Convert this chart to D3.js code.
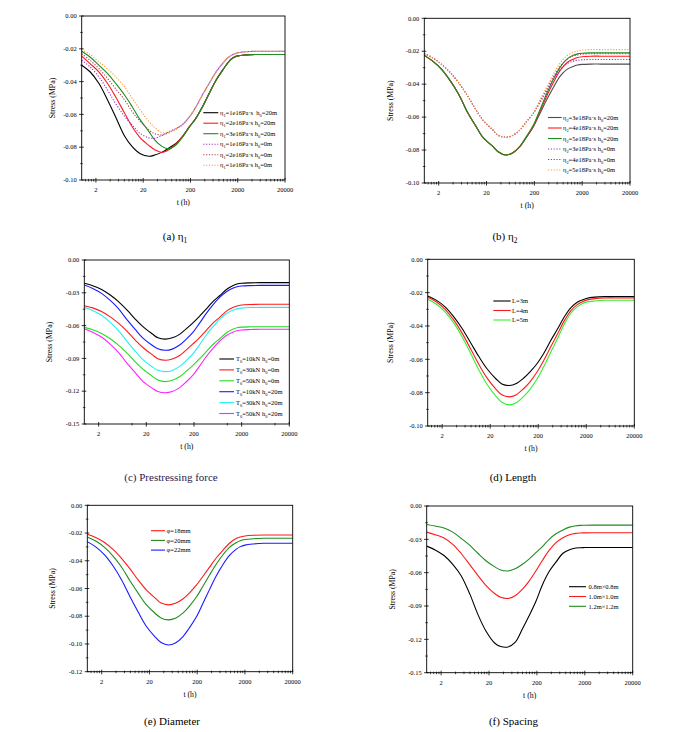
<!DOCTYPE html>
<html><head><meta charset="utf-8">
<script src="https://cdn.jsdelivr.net/npm/d3@7"></script>
<style>
body{margin:0;background:#fff}
svg{display:block}
text{font-family:"Liberation Serif","Times New Roman",serif;fill:#000}
</style>
</head><body>
<svg id="fig" width="685" height="732"></svg>
<script>
// ---------- shared time axis (h) ----------
const T = [1, 1.5, 2.3, 3.5, 5.2, 8, 11.7, 17, 26.5, 35, 50, 70, 100, 135, 190, 260, 360, 500, 700, 960, 1300, 1600, 2000, 3000, 5000, 10000, 20000];
const xTickValues = [2, 20, 200, 2000, 20000];
const xTickLabels = ["2", "20", "200", "2000", "20000"];

// ---------- (a) eta1 ----------
const aLabels = ["η_1=1e16Pa·s  h_0=20m", "η_1=2e16Pa·s h_0=20m", "η_1=3e16Pa·s h_0=20m", "η_1=1e16Pa·s h_0=0m", "η_1=2e16Pa·s h_0=0m", "η_1=1e16Pa·s h_0=0m"];
const aS1 = [-0.030, -0.034, -0.041, -0.051, -0.0614, -0.073, -0.0797, -0.0838, -0.0855, -0.0848, -0.0830, -0.0805, -0.0776, -0.0736, -0.0675, -0.0624, -0.0553, -0.0471, -0.039, -0.033, -0.0278, -0.0255, -0.0243, -0.0237, -0.0235, -0.0235, -0.0235];
const aS2 = [-0.0245, -0.029, -0.034, -0.041, -0.0492, -0.059, -0.0675, -0.0740, -0.0790, -0.0815, -0.0832, -0.0815, -0.0778, -0.0736, -0.0675, -0.0624, -0.0553, -0.0471, -0.039, -0.033, -0.0278, -0.0255, -0.0243, -0.0237, -0.0235, -0.0235, -0.0235];
const aS3 = [-0.0215, -0.025, -0.0299, -0.035, -0.041, -0.048, -0.0553, -0.0630, -0.0705, -0.0755, -0.0795, -0.0810, -0.0785, -0.0740, -0.0677, -0.0625, -0.0553, -0.0471, -0.039, -0.033, -0.0278, -0.0255, -0.0243, -0.0237, -0.0235, -0.0235, -0.0235];
const aD1 = [-0.027, -0.031, -0.037, -0.045, -0.0533, -0.061, -0.0665, -0.0715, -0.0743, -0.0745, -0.0728, -0.0705, -0.0685, -0.0662, -0.0615, -0.0555, -0.048, -0.041, -0.034, -0.0289, -0.0250, -0.0235, -0.0225, -0.0218, -0.0215, -0.0215, -0.0215];
const aD2 = [-0.023, -0.027, -0.032, -0.038, -0.0443, -0.051, -0.0583, -0.064, -0.0695, -0.0718, -0.0725, -0.0712, -0.0688, -0.0662, -0.0615, -0.0555, -0.048, -0.041, -0.034, -0.0289, -0.0250, -0.0235, -0.0225, -0.0218, -0.0215, -0.0215, -0.0215];
const aD3 = [-0.0205, -0.0235, -0.0279, -0.032, -0.037, -0.043, -0.0502, -0.057, -0.0644, -0.068, -0.0711, -0.0708, -0.0690, -0.0662, -0.0615, -0.0555, -0.048, -0.041, -0.034, -0.0289, -0.0250, -0.0235, -0.0225, -0.0218, -0.0215, -0.0215, -0.0215];

// ---------- (b) eta2 ----------
const bLabels = ["η_2=3e18Pa·s h_0=20m", "η_2=4e18Pa·s h_0=20m", "η_2=5e18Pa·s h_0=20m", "η_2=3e18Pa·s h_0=0m", "η_2=4e18Pa·s h_0=0m", "η_2=5e18Pa·s h_0=0m"];
const bS1 = [-0.0225, -0.026, -0.031, -0.038, -0.046, -0.057, -0.065, -0.0725, -0.0775, -0.0810, -0.0830, -0.0818, -0.0779, -0.0725, -0.0660, -0.0580, -0.0496, -0.0420, -0.0350, -0.0310, -0.0292, -0.0284, -0.0280, -0.0278, -0.0278, -0.0278, -0.0278];
const bS2 = [-0.0225, -0.026, -0.031, -0.038, -0.046, -0.057, -0.065, -0.0725, -0.0775, -0.0810, -0.0830, -0.0818, -0.0778, -0.0722, -0.0655, -0.0568, -0.0475, -0.0390, -0.0315, -0.0270, -0.0248, -0.0238, -0.0233, -0.0230, -0.0230, -0.0230, -0.0230];
const bS3 = [-0.0225, -0.026, -0.031, -0.038, -0.046, -0.057, -0.065, -0.0725, -0.0775, -0.0810, -0.0830, -0.0818, -0.0778, -0.0720, -0.0650, -0.0558, -0.0460, -0.0370, -0.0295, -0.0248, -0.0225, -0.0216, -0.0212, -0.0210, -0.0210, -0.0210, -0.0210];
const bD1 = [-0.0215, -0.024, -0.028, -0.033, -0.039, -0.047, -0.055, -0.0620, -0.0675, -0.0710, -0.0722, -0.0712, -0.0678, -0.0630, -0.0577, -0.0515, -0.0445, -0.037, -0.031, -0.0275, -0.0260, -0.0255, -0.0252, -0.0250, -0.0250, -0.0250, -0.0250];
const bD2 = [-0.0215, -0.024, -0.028, -0.033, -0.039, -0.047, -0.055, -0.0620, -0.0675, -0.0710, -0.0722, -0.0712, -0.0678, -0.0630, -0.0577, -0.0505, -0.0432, -0.0355, -0.029, -0.0250, -0.0228, -0.0222, -0.0218, -0.0215, -0.0215, -0.0215, -0.0215];
const bD3 = [-0.0215, -0.024, -0.028, -0.033, -0.039, -0.047, -0.055, -0.0620, -0.0675, -0.0710, -0.0722, -0.0712, -0.0678, -0.0630, -0.0577, -0.0498, -0.0420, -0.034, -0.027, -0.0228, -0.0207, -0.0198, -0.0193, -0.0190, -0.0190, -0.0190, -0.0190];

// ---------- (c) prestressing force ----------
const cLabels = ["T_0=10kN h_0=0m", "T_0=30kN h_0=0m", "T_0=50kN h_0=0m", "T_0=10kN h_0=20m", "T_0=30kN h_0=20m", "T_0=50kN h_0=20m"];
const c10a = [-0.0213, -0.0235, -0.027, -0.032, -0.038, -0.046, -0.054, -0.061, -0.0675, -0.0712, -0.0724, -0.0712, -0.0680, -0.0633, -0.0575, -0.0515, -0.0450, -0.0380, -0.0325, -0.0270, -0.0235, -0.0220, -0.0213, -0.0209, -0.0207, -0.0207, -0.0207];
const c30a = [-0.0418, -0.0438, -0.0472, -0.0520, -0.0578, -0.0655, -0.0733, -0.0800, -0.0866, -0.0903, -0.0917, -0.0905, -0.0873, -0.0826, -0.0768, -0.0712, -0.0645, -0.0577, -0.0522, -0.0468, -0.0435, -0.0420, -0.0412, -0.0407, -0.0405, -0.0405, -0.0405];
const c50a = [-0.0616, -0.0638, -0.0672, -0.0720, -0.0778, -0.0855, -0.0932, -0.0998, -0.1062, -0.1098, -0.1112, -0.1100, -0.1068, -0.1021, -0.0963, -0.0905, -0.0840, -0.0773, -0.0718, -0.0665, -0.0633, -0.0620, -0.0614, -0.0611, -0.0610, -0.0610, -0.0610];
const c10b = [-0.0229, -0.0260, -0.0305, -0.0370, -0.0445, -0.0550, -0.0635, -0.0715, -0.0780, -0.0812, -0.0826, -0.0815, -0.0778, -0.0728, -0.0662, -0.0580, -0.0490, -0.0410, -0.0340, -0.0290, -0.0258, -0.0245, -0.0238, -0.0234, -0.0232, -0.0232, -0.0232];
const c30b = [-0.0433, -0.0462, -0.0506, -0.0570, -0.0645, -0.0748, -0.0833, -0.0912, -0.0977, -0.1008, -0.1021, -0.1010, -0.0973, -0.0923, -0.0858, -0.0777, -0.0688, -0.0610, -0.0540, -0.0490, -0.0460, -0.0447, -0.0440, -0.0435, -0.0433, -0.0433, -0.0433];
const c50b = [-0.0628, -0.0660, -0.0705, -0.0770, -0.0845, -0.0948, -0.1030, -0.1110, -0.1172, -0.1203, -0.1214, -0.1203, -0.1167, -0.1118, -0.1053, -0.0973, -0.0885, -0.0808, -0.0740, -0.0690, -0.0660, -0.0647, -0.0640, -0.0636, -0.0634, -0.0634, -0.0634];

// ---------- (d) length ----------
const dLabels = ["L=3m", "L=4m", "L=5m"];
const dL3 = [-0.0220, -0.0245, -0.0285, -0.0345, -0.0415, -0.0505, -0.0585, -0.0655, -0.0718, -0.0748, -0.0757, -0.0745, -0.0712, -0.0675, -0.0625, -0.0565, -0.0490, -0.0420, -0.0345, -0.0290, -0.0258, -0.0245, -0.0235, -0.0227, -0.0224, -0.0224, -0.0224];
const dL4 = [-0.0228, -0.0255, -0.0300, -0.0365, -0.0443, -0.0543, -0.0632, -0.0710, -0.0780, -0.0813, -0.0825, -0.0812, -0.0775, -0.0735, -0.0675, -0.0607, -0.0528, -0.0450, -0.0368, -0.0308, -0.0272, -0.0257, -0.0245, -0.0236, -0.0232, -0.0232, -0.0232];
const dL5 = [-0.0240, -0.0268, -0.0315, -0.0383, -0.0465, -0.0570, -0.0665, -0.0748, -0.0822, -0.0857, -0.0873, -0.0860, -0.0822, -0.0780, -0.0717, -0.0645, -0.0560, -0.0477, -0.0388, -0.0322, -0.0285, -0.0268, -0.0257, -0.0250, -0.0246, -0.0246, -0.0246];

// ---------- (e) diameter ----------
const eLabels = ["φ=18mm", "φ=20mm", "φ=22mm"];
const e18 = [-0.0209, -0.0232, -0.0268, -0.0320, -0.0382, -0.0462, -0.0540, -0.0608, -0.0670, -0.0705, -0.0718, -0.0707, -0.0676, -0.0635, -0.0578, -0.0515, -0.0448, -0.0380, -0.0322, -0.0272, -0.0240, -0.0228, -0.0221, -0.0216, -0.0214, -0.0214, -0.0214];
const e20 = [-0.0228, -0.0258, -0.0303, -0.0368, -0.0445, -0.0550, -0.0635, -0.0715, -0.0780, -0.0812, -0.0826, -0.0815, -0.0778, -0.0730, -0.0665, -0.0588, -0.0505, -0.0425, -0.0355, -0.0302, -0.0270, -0.0255, -0.0247, -0.0241, -0.0238, -0.0238, -0.0238];
const e22 = [-0.0262, -0.0300, -0.0358, -0.0440, -0.0537, -0.0665, -0.0772, -0.0870, -0.0950, -0.0990, -0.1007, -0.0993, -0.0948, -0.0888, -0.0808, -0.0712, -0.0610, -0.0510, -0.0425, -0.0360, -0.0318, -0.0298, -0.0287, -0.0279, -0.0274, -0.0274, -0.0274];

// ---------- (f) spacing ----------
const fLabels = ["0.8m×0.8m", "1.0m×1.0m", "1.2m×1.2m"];
const f08 = [-0.0361, -0.0395, -0.0445, -0.0525, -0.0625, -0.0795, -0.0975, -0.1120, -0.1235, -0.1264, -0.1268, -0.1228, -0.1105, -0.0995, -0.0860, -0.0710, -0.0590, -0.0505, -0.0425, -0.0393, -0.0378, -0.0375, -0.0374, -0.0373, -0.0373, -0.0373, -0.0373];
const f10 = [-0.0235, -0.0258, -0.0288, -0.0345, -0.0425, -0.0530, -0.0625, -0.0712, -0.0790, -0.0822, -0.0832, -0.0808, -0.0748, -0.0680, -0.0585, -0.0490, -0.0400, -0.0330, -0.0285, -0.0258, -0.0246, -0.0243, -0.0242, -0.0241, -0.0241, -0.0241, -0.0241];
const f12 = [-0.0166, -0.0180, -0.0198, -0.0235, -0.0290, -0.0355, -0.0425, -0.0490, -0.0548, -0.0576, -0.0585, -0.0565, -0.0524, -0.0480, -0.0420, -0.0365, -0.0300, -0.0250, -0.0215, -0.0190, -0.0178, -0.0174, -0.0173, -0.0172, -0.0172, -0.0172, -0.0172];

// y tick sets
const yTicks10 = [0, -0.02, -0.04, -0.06, -0.08, -0.10];
const yTicks12 = [0, -0.02, -0.04, -0.06, -0.08, -0.10, -0.12];
const yTicks15 = [0, -0.03, -0.06, -0.09, -0.12, -0.15];

// captions
const captions = ["(a) η_1", "(b) η_2", "(c) Prestressing force", "(d) Length", "(e) Diameter", "(f) Spacing"];

// ================= drawing =================
const svg = d3.select("#fig");
const fmt = d3.formatLocale({decimal: ".", thousands: ",", grouping: [3], currency: ["", ""], minus: "-"}).format(".2f");

function rich(textSel, str, fs) {
  const parts = str.split(/(_.)/).filter(p => p !== "");
  let shifted = false;
  parts.forEach(p => {
    if (p[0] === "_" && p.length === 2) {
      textSel.append("tspan").attr("font-size", fs * 0.68).attr("dy", fs * 0.28).text(p[1]);
      shifted = true;
    } else {
      const t = textSel.append("tspan").text(p);
      if (shifted) { t.attr("dy", -fs * 0.28); shifted = false; }
    }
  });
}

const fineMinor = [];
for (let k = -1; k <= 3; k++) for (let m = 2; m <= 9; m++) {
  const v = 2 * Math.pow(10, k) * m;
  if (v > 1.001 && v < 19999) fineMinor.push(v);
}
const coarseMinor = [10, 100, 1000, 10000];

function panel(c) {
  const g = svg.append("g");
  const x = d3.scaleLog().domain([1, 20000]).range([c.x0, c.x1]);
  const y = d3.scaleLinear().domain([c.ymin, 0]).range([c.y1, c.y0]);

  const line = d3.line().x((d, i) => x(T[i])).y(d => y(d)).curve(d3.curveCatmullRom.alpha(0.5));
  const clipId = "clip" + c.id;
  svg.append("clipPath").attr("id", clipId).append("rect")
    .attr("x", c.x0).attr("y", c.y0).attr("width", c.x1 - c.x0).attr("height", c.y1 - c.y0);
  const cg = g.append("g").attr("clip-path", `url(#${clipId})`);
  c.series.forEach(s => {
    cg.append("path").attr("d", line(s.values)).attr("fill", "none")
      .attr("stroke", s.color).attr("stroke-width", 1.1)
      .attr("stroke-dasharray", s.dash ? "1.2,1.6" : null);
  });

  // frame
  g.append("rect").attr("x", c.x0).attr("y", c.y0).attr("width", c.x1 - c.x0).attr("height", c.y1 - c.y0)
    .attr("fill", "none").attr("stroke", "#000").attr("stroke-width", 0.9);

  // x ticks
  xTickValues.forEach((v, i) => {
    g.append("line").attr("x1", x(v)).attr("x2", x(v)).attr("y1", c.y1 - 2).attr("y2", c.y1 + 2.6)
      .attr("stroke", "#000").attr("stroke-width", 0.8);
    g.append("text").attr("x", x(v)).attr("y", c.y1 + 12).attr("text-anchor", "middle")
      .attr("font-size", 6.5).text(xTickLabels[i]);
  });
  (c.coarse ? coarseMinor : fineMinor).forEach(v => {
    g.append("line").attr("x1", x(v)).attr("x2", x(v)).attr("y1", c.y1 - 1.1).attr("y2", c.y1 + 1.5)
      .attr("stroke", "#000").attr("stroke-width", 0.7);
  });

  // y ticks
  const step = c.yTicks[0] - c.yTicks[1];
  c.yTicks.forEach(v => {
    g.append("line").attr("x1", c.x0 - 2.6).attr("x2", c.x0 + 2).attr("y1", y(v)).attr("y2", y(v))
      .attr("stroke", "#000").attr("stroke-width", 0.8);
    g.append("text").attr("x", c.x0 - 5).attr("y", y(v) + 2.2).attr("text-anchor", "end")
      .attr("font-size", 6.5).text(fmt(v));
    const mv = v - step / 2;
    if (mv >= c.ymin - 1e-9) {
      g.append("line").attr("x1", c.x0 - 1.5).attr("x2", c.x0 + 1.1).attr("y1", y(mv)).attr("y2", y(mv))
        .attr("stroke", "#000").attr("stroke-width", 0.7);
    }
  });

  // axis titles
  const cy = (c.y0 + c.y1) / 2;
  g.append("text").attr("transform", `translate(${c.x0 - c.ylabOff},${cy}) rotate(-90)`)
    .attr("text-anchor", "middle").attr("font-size", 7.8).text("Stress (MPa)");
  g.append("text").attr("x", (c.x0 + c.x1) / 2).attr("y", c.y1 + 25)
    .attr("text-anchor", "middle").attr("font-size", 7.8).text("t (h)");

  // legend
  c.series.forEach((s, i) => {
    const ly = c.leg.y + i * c.leg.dy;
    g.append("line").attr("x1", c.leg.l0).attr("x2", c.leg.l1).attr("y1", ly).attr("y2", ly)
      .attr("stroke", s.color).attr("stroke-width", 1.1)
      .attr("stroke-dasharray", s.dash ? "1.2,1.6" : null);
    const t = g.append("text").attr("x", c.leg.tx).attr("y", ly + 2.2).attr("font-size", 6.5)
      .attr("xml:space", "preserve").style("white-space", "pre");
    rich(t, s.label, 6.5);
  });

  // caption
  const ct = g.append("text").attr("x", c.capX).attr("y", c.capY).attr("text-anchor", "middle")
    .attr("font-size", 11).style("fill", c.capColor || "#000");
  rich(ct, c.caption, 11);
}

panel({id: "a", x0: 81.7, x1: 285, y0: 16, y1: 180, ymin: -0.10, yTicks: yTicks10, ylabOff: 27,
  leg: {l0: 203.3, l1: 218.3, tx: 220, y: 112.7, dy: 10.5}, capX: 175, capY: 239.5, caption: captions[0],
  series: [
    {values: aS1, color: "#000000", label: aLabels[0]},
    {values: aS2, color: "#ff1a1a", label: aLabels[1]},
    {values: aS3, color: "#1e8c1e", label: aLabels[2]},
    {values: aD1, color: "#9b30c8", dash: true, label: aLabels[3]},
    {values: aD2, color: "#a0405a", dash: true, label: aLabels[4]},
    {values: aD3, color: "#ff9a3c", dash: true, label: aLabels[5]}
  ]});

panel({id: "b", x0: 424.3, x1: 630, y0: 18.3, y1: 183, ymin: -0.10, yTicks: yTicks10, ylabOff: 31.3,
  leg: {l0: 548, l1: 561.7, tx: 563, y: 117.5, dy: 10.5}, capX: 505, capY: 239.5, caption: captions[1],
  series: [
    {values: bS1, color: "#4d4d4d", label: bLabels[0]},
    {values: bS2, color: "#ff1a1a", label: bLabels[1]},
    {values: bS3, color: "#1e8c1e", label: bLabels[2]},
    {values: bD1, color: "#9b30c8", dash: true, label: bLabels[3]},
    {values: bD2, color: "#a0405a", dash: true, label: bLabels[4]},
    {values: bD3, color: "#ff9a3c", dash: true, label: bLabels[5]}
  ]});

panel({id: "c", x0: 84.3, x1: 289.3, y0: 260, y1: 424, ymin: -0.15, yTicks: yTicks15, ylabOff: 32.3, coarse: true,
  leg: {l0: 219.3, l1: 234, tx: 236, y: 359, dy: 10.9}, capX: 171, capY: 481, caption: captions[2], capColor: "#1c1c50",
  series: [
    {values: c10a, color: "#000000", label: cLabels[0]},
    {values: c30a, color: "#ff1a1a", label: cLabels[1]},
    {values: c50a, color: "#22dd22", label: cLabels[2]},
    {values: c10b, color: "#1a1aff", label: cLabels[3]},
    {values: c30b, color: "#22f0f0", label: cLabels[4]},
    {values: c50b, color: "#ff22ff", label: cLabels[5]}
  ]});

panel({id: "d", x0: 427.7, x1: 634.3, y0: 259.3, y1: 426, ymin: -0.10, yTicks: yTicks10, ylabOff: 34.4,
  leg: {l0: 493.3, l1: 510.7, tx: 512, y: 301, dy: 9.5}, capX: 513, capY: 481, caption: captions[3],
  series: [
    {values: dL3, color: "#000000", label: dLabels[0]},
    {values: dL4, color: "#ff1a1a", label: dLabels[1]},
    {values: dL5, color: "#33ee33", label: dLabels[2]}
  ]});

panel({id: "e", x0: 87.3, x1: 292.7, y0: 505.3, y1: 671.7, ymin: -0.12, yTicks: yTicks12, ylabOff: 32.3,
  leg: {l0: 151, l1: 165, tx: 166.5, y: 530.7, dy: 9.7}, capX: 172, capY: 724.5, caption: captions[4],
  series: [
    {values: e18, color: "#ff1a1a", label: eLabels[0]},
    {values: e20, color: "#1e8c1e", label: eLabels[1]},
    {values: e22, color: "#1a1aff", label: eLabels[2]}
  ]});

panel({id: "f", x0: 426.7, x1: 632.7, y0: 506, y1: 672.7, ymin: -0.15, yTicks: yTicks15, ylabOff: 31.7,
  leg: {l0: 569, l1: 586, tx: 588.5, y: 586.7, dy: 9.8}, capX: 513.5, capY: 724.5, caption: captions[5],
  series: [
    {values: f08, color: "#000000", label: fLabels[0]},
    {values: f10, color: "#ff1a1a", label: fLabels[1]},
    {values: f12, color: "#1e8c1e", label: fLabels[2]}
  ]});
</script>
</body></html>
